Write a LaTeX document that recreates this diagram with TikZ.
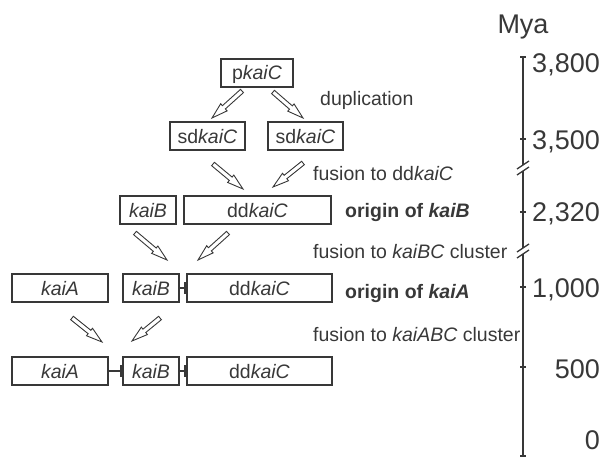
\documentclass[tikz,border=0pt]{standalone}
\usepackage{fontspec}
\setmainfont{Liberation Sans}
\usetikzlibrary{arrows.meta,calc}
\definecolor{ink}{HTML}{383838}
\newcommand\hollowarr[2]{%
  \coordinate (hk) at ($(#2)!16pt!(#1)$);
  \draw[harrow] ($(#1)!2.2pt!90:(#2)$) -- ($(hk)!2.2pt!-90:(#1)$) -- ($(hk)!4.8pt!-90:(#1)$)
    -- (#2) -- ($(hk)!4.8pt!90:(#1)$) -- ($(hk)!2.2pt!90:(#1)$) -- ($(#1)!2.2pt!-90:(#2)$) -- cycle;}
\newcommand\gtick[1]{\draw[conn] ($(#1.west)+(-1.5,-6)$) -- ($(#1.west)+(-1.5,6)$);}
\begin{document}
\begin{tikzpicture}[x=1pt,y=-1pt,
  gene/.style={draw=ink, line width=1.1pt, minimum height=28pt, inner sep=0pt,
    text height=14pt, text depth=0pt,
    font=\fontsize{19.5}{22}\selectfont, text=ink},
  lab/.style={anchor=base west, inner sep=0pt, font=\fontsize{19.5}{22}\selectfont, text=ink},
  num/.style={anchor=base east, inner sep=0pt, font=\fontsize{27}{30}\selectfont, text=ink},
  harrow/.style={draw=ink, line width=0.9pt, fill=white, line join=miter},
  conn/.style={draw=ink, line width=1.4pt},
  axis/.style={draw=ink, line width=1.8pt}
]
\useasboundingbox (0,0) rectangle (605,460);

% genes
\node[gene, minimum width=72pt] (p) at (257,73) {p\textit{kaiC}};
\node[gene, minimum width=75pt] (sdL) at (207.5,136) {sd\textit{kaiC}};
\node[gene, minimum width=75pt] (sdR) at (305.5,136) {sd\textit{kaiC}};
\node[gene, minimum width=56pt] (b3) at (148,210) {\textit{kaiB}};
\node[gene, minimum width=147pt] (c3) at (257.5,210) {dd\textit{kaiC}};
\node[gene, minimum width=96pt] (a4) at (60,288) {\textit{kaiA}};
\node[gene, minimum width=56pt] (b4) at (151,288) {\textit{kaiB}};
\node[gene, minimum width=145pt] (c4) at (259.5,288) {dd\textit{kaiC}};
\node[gene, minimum width=96pt] (a5) at (60,371) {\textit{kaiA}};
\node[gene, minimum width=56pt] (b5) at (151,371) {\textit{kaiB}};
\node[gene, minimum width=145pt] (c5) at (259.5,371) {dd\textit{kaiC}};

% fusion links
\draw[conn] (b4.east) -- (c4.west); \gtick{c4}
\draw[conn] (a5.east) -- (b5.west); \gtick{b5}
\draw[conn] (b5.east) -- (c5.west); \gtick{c5}

% hollow arrows
\coordinate (s1) at (242,91);  \coordinate (e1) at (212,118);
\coordinate (s2) at (273,92);  \coordinate (e2) at (303,118);
\coordinate (s3) at (213,164); \coordinate (e3) at (243,189);
\coordinate (s4) at (303,163); \coordinate (e4) at (273,187);
\coordinate (s5) at (135,233); \coordinate (e5) at (167,260);
\coordinate (s6) at (228,233); \coordinate (e6) at (198,260);
\coordinate (s7) at (72,318);  \coordinate (e7) at (102,342);
\coordinate (s8) at (160,318); \coordinate (e8) at (132,341);
\hollowarr{s1}{e1}\hollowarr{s2}{e2}\hollowarr{s3}{e3}\hollowarr{s4}{e4}
\hollowarr{s5}{e5}\hollowarr{s6}{e6}\hollowarr{s7}{e7}\hollowarr{s8}{e8}

% event labels
\node[lab] (l1) at (320,106) {duplication};
\node[lab] (l2) at (313,180) {fusion to dd\textit{kaiC}};
\node[lab, font=\fontsize{19.5}{22}\selectfont\bfseries] (l3) at (345,217) {origin of \textit{kaiB}};
\node[lab] (l4) at (313,258) {fusion to \textit{kaiBC} cluster};
\node[lab, font=\fontsize{19.5}{22}\selectfont\bfseries] (l5) at (345,298) {origin of \textit{kaiA}};
\node[lab] (l6) at (313,341) {fusion to \textit{kaiABC} cluster};

% time axis
\coordinate (t0) at (523,57);
\coordinate (b1a) at (523,165); \coordinate (b1b) at (523,171);
\coordinate (b2a) at (523,248); \coordinate (b2b) at (523,254);
\coordinate (t9) at (523,456);
\draw[axis] (t0) -- (b1a);
\draw[axis] (b1b) -- (b2a);
\draw[axis] (b2b) -- (t9);
\foreach \c in {b1a,b1b,b2a,b2b}
  \draw[draw=ink, line width=1.3pt] ($(\c)+(-6,4)$) -- ($(\c)+(6,-4)$);
\foreach \y in {57,139,212,287,367,456}
  \draw[draw=ink, line width=1.3pt] (520,\y) -- (526,\y);

\node[anchor=base, inner sep=0pt, font=\fontsize{27}{30}\selectfont, text=ink] (mya) at (523,34) {Mya};
\node[num] (n1) at (600,73) {3,800};
\node[num] (n2) at (600,149.5) {3,500};
\node[num] (n3) at (600,221.5) {2,320};
\node[num] (n4) at (600,297.5) {1,000};
\node[num] (n5) at (600,378.5) {500};
\node[num] (n6) at (600,449.5) {0};
\end{tikzpicture}
\end{document}
